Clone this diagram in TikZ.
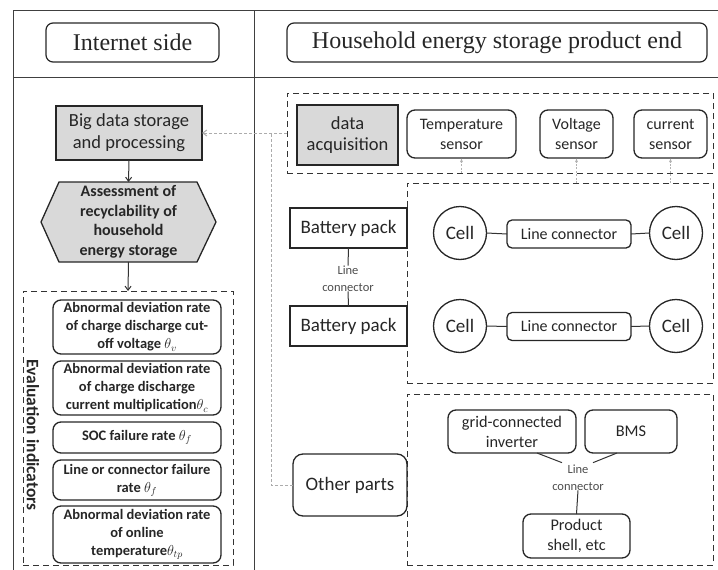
\documentclass[tikz,border=0pt]{standalone}
\usepackage{fontspec}
\setmainfont{Carlito}
\newfontfamily\hdrfont{Liberation Serif}
\usetikzlibrary{arrows.meta,calc,backgrounds}
\begin{document}
\begin{tikzpicture}[x=1pt,y=-1pt,
  every node/.style={inner sep=0pt, outer sep=0pt, align=center, text=black!85},
  frame/.style={draw=black!75, line width=0.9pt},
  hdrbox/.style={draw=black!85, line width=1.2pt, rounded corners=7pt, font=\hdrfont\fontsize{24}{27}\selectfont},
  greybox/.style={draw=black!85, line width=1.8pt, fill=gray!30},
  sqbox/.style={draw=black!85, line width=1.6pt},
  rbox/.style={draw=black!85, line width=1.3pt, rounded corners=8pt},
  indbox/.style={rbox, font=\bfseries\fontsize{14.5}{18}\selectfont},
  grp/.style={draw=black!80, line width=1pt, dash pattern=on 6pt off 4pt},
  cellnode/.style={draw=black!85, line width=1.3pt, circle, minimum size=53pt, font=\fontsize{19}{22}\selectfont},
  lbl/.style={font=\fontsize{12.5}{17}\selectfont, text=black!70},
  link/.style={draw=black!80, line width=1pt},
  arr/.style={link, -{Straight Barb[length=4pt,width=6pt]}},
  datal/.style={draw=gray!65, line width=1pt, dash pattern=on 3pt off 2pt},
  sarr/.style={draw=gray!60, line width=0.8pt, dash pattern=on 2pt off 1.5pt, -{Latex[length=4pt,width=3pt]}},
]
\useasboundingbox (0,0) rectangle (718,570);

% frame
\draw[frame] (13,570) -- (13,10) -- (718,10);
\draw[frame] (13,77) -- (718,77);
\draw[frame] (254,10) -- (254,570);

% headers
\node[hdrbox, minimum width=173pt, minimum height=39pt] (h1) at (132.5,42.5) {Internet side};
\node[hdrbox, minimum width=420pt, minimum height=39pt] (h2) at (497,42.5) {Household energy storage product end};

% left column
\node[greybox, minimum width=146pt, minimum height=54pt, font=\fontsize{18.5}{22}\selectfont] (big) at (129,133) {Big data storage\\and processing};
\node[minimum width=175pt, minimum height=80pt, font=\bfseries\fontsize{16}{19.5}\selectfont] (hex) at (128.5,222) {Assessment of\\recyclability of\\household\\energy storage};
\begin{scope}[on background layer]
\draw[draw=black!85, line width=1.3pt, fill=gray!30]
  (hex.west) -- ([xshift=18pt]hex.north west) -- ([xshift=-19pt]hex.north east) -- (hex.east)
  -- ([xshift=-19pt]hex.south east) -- ([xshift=18pt]hex.south west) -- cycle;
\end{scope}
\node[grp, minimum width=210pt, minimum height=274pt] (eval) at (128,428) {};
\node[rotate=-90, font=\bfseries\fontsize{17.5}{19}\selectfont] (evlbl) at (33,435) {Evaluation indicators};

\node[indbox, minimum width=168pt, minimum height=54pt] (i1) at (137,327) {Abnormal deviation rate\\of charge discharge cut-\\off voltage $\theta_v$};
\node[indbox, minimum width=168pt, minimum height=54pt] (i2) at (137,388) {Abnormal deviation rate\\of charge discharge\\current multiplication$\theta_c$};
\node[indbox, minimum width=168pt, minimum height=31pt] (i3) at (137,437.5) {SOC failure rate $\theta_f$};
\node[indbox, minimum width=168pt, minimum height=40pt] (i4) at (137,480) {Line or connector failure\\rate $\theta_f$};
\node[indbox, minimum width=168pt, minimum height=57pt] (i5) at (137,534.5) {Abnormal deviation rate\\of online\\temperature$\theta_{tp}$};

\draw[arr] (big.south) -- (hex.north);
\draw[arr] (hex.south) -- (eval.north);

% right: data acquisition group
\node[grp, minimum width=426pt, minimum height=80pt] (acqgrp) at (500,133) {};
\node[greybox, minimum width=101pt, minimum height=60pt, font=\fontsize{18.5}{21}\selectfont] (acq) at (347.5,135) {data\\acquisition};
\node[rbox, minimum width=109pt, minimum height=48pt, font=\fontsize{16}{20}\selectfont] (temp) at (461.5,134) {Temperature\\sensor};
\node[rbox, minimum width=73pt, minimum height=48pt, font=\fontsize{16}{20}\selectfont] (volt) at (576.5,134) {Voltage\\sensor};
\node[rbox, minimum width=73pt, minimum height=48pt, font=\fontsize{16}{20}\selectfont] (curr) at (670.5,134) {current\\sensor};

% cells group
\node[grp, minimum width=306pt, minimum height=200pt] (cellgrp) at (560,283) {};
\node[sqbox, minimum width=117pt, minimum height=40pt, font=\fontsize{19}{21}\selectfont] (bp1) at (348.5,228) {Battery pack};
\node[sqbox, minimum width=117pt, minimum height=40pt, font=\fontsize{19}{21}\selectfont] (bp2) at (348.5,326) {Battery pack};
\node[lbl] (bplbl) at (348,278.5) {Line\\connector};
\draw[link] (bp1.south) -- (bplbl.north);
\draw[link] (bplbl.south) -- (bp2.north);

\node[cellnode] (c1) at (460,233) {Cell};
\node[rbox, rounded corners=5pt, minimum width=124pt, minimum height=28pt, font=\fontsize{16}{19}\selectfont] (lc1) at (569,234) {Line connector};
\node[cellnode] (c2) at (676,233) {Cell};
\node[cellnode] (c3) at (460,326) {Cell};
\node[rbox, rounded corners=5pt, minimum width=124pt, minimum height=28pt, font=\fontsize{16}{19}\selectfont] (lc2) at (569,326.5) {Line connector};
\node[cellnode] (c4) at (676,326) {Cell};
\draw[link] (c1.east) -- (lc1.west);
\draw[link] (lc1.east) -- (c2.west);
\draw[link] (c3.east) -- (lc2.west);
\draw[link] (lc2.east) -- (c4.west);

% other parts group
\node[grp, minimum width=306pt, minimum height=171pt] (othgrp) at (560,479.5) {};
\node[rbox, minimum width=128pt, minimum height=43pt, font=\fontsize{16.3}{20}\selectfont] (inv) at (512,431.5) {grid-connected\\inverter};
\node[rbox, minimum width=92pt, minimum height=43pt, font=\fontsize{16.3}{20}\selectfont] (bms) at (631,431.5) {BMS};
\node[lbl] (olbl) at (578,477.5) {Line\\connector};
\node[rbox, minimum width=107pt, minimum height=44pt, font=\fontsize{16.3}{20}\selectfont] (prod) at (576.5,536) {Product\\shell, etc};
\draw[link] ([xshift=25pt]inv.south) -- ([xshift=-16pt,yshift=2pt]olbl.north);
\draw[link] ([xshift=-14pt]bms.south) -- ([xshift=15pt,yshift=2pt]olbl.north);
\draw[link] (olbl.south) -- (prod.north);

\node[rbox, rounded corners=10pt, minimum width=114pt, minimum height=62pt, font=\fontsize{19}{21}\selectfont] (other) at (350,485) {Other parts};

% data connectors
\draw[datal, -{Straight Barb[length=4pt,width=6pt]}] (acqgrp.west) -- (big.east);
\coordinate (j) at (271,133);
\draw[datal] (other.west) -| (j);
\draw[sarr] (temp.south |- acqgrp.south) -- (temp.south);
\draw[sarr] (volt.south |- cellgrp.north) -- (volt.south);
\draw[sarr] (curr.south |- cellgrp.north) -- (curr.south);
\end{tikzpicture}
\end{document}
